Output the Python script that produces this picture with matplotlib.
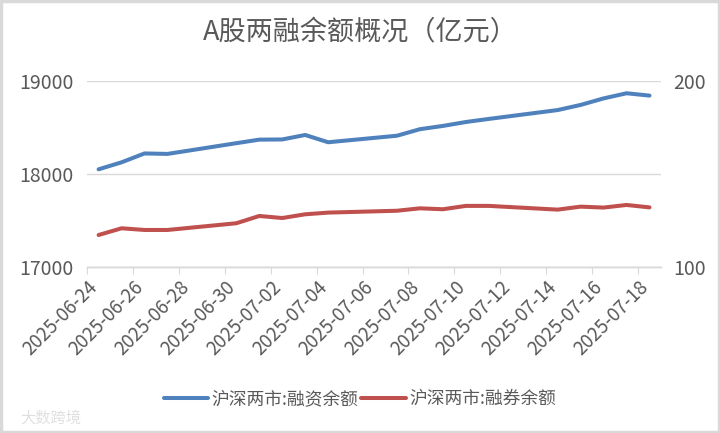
import matplotlib
matplotlib.use("Agg")
from matplotlib import pyplot as plt
import matplotlib.dates as mdates
from matplotlib.patches import Rectangle
import pandas as pd

plt.rcParams["font.family"] = ["Noto Sans CJK SC", "DejaVu Sans"]

dates = [
    "2025-06-24", "2025-06-25", "2025-06-26", "2025-06-27", "2025-06-30",
    "2025-07-01", "2025-07-02", "2025-07-03", "2025-07-04", "2025-07-07",
    "2025-07-08", "2025-07-09", "2025-07-10", "2025-07-11", "2025-07-14",
    "2025-07-15", "2025-07-16", "2025-07-17", "2025-07-18",
]
financing = [
    18050, 18125, 18220, 18215, 18330, 18368, 18370, 18418, 18340, 18410,
    18480, 18515, 18557, 18590, 18685, 18740, 18810, 18865, 18840,
]
securities = [
    117.3, 120.9, 120.0, 120.0, 123.6, 127.5, 126.4, 128.4, 129.3, 130.3,
    131.6, 131.1, 132.9, 132.9, 130.9, 132.5, 132.0, 133.4, 132.1,
]
labels = ["沪深两市:融资余额", "沪深两市:融券余额"]
title = "A股两融余额概况（亿元）"

text_color = "#595959"
grid_color = "#D9D9D9"
blue = "#4F81BD"
red = "#C0504D"

# Excel date axis: points sit in the middle of each day
x = pd.to_datetime(dates) + pd.Timedelta(hours=12)

fig = plt.figure(figsize=(7.2, 4.33), dpi=100)
ax = fig.add_axes([0.121, 0.3827, 0.797, 0.431])
ax2 = ax.twinx()

l1, = ax.plot(x, financing, color=blue, linewidth=2.9, solid_capstyle="round")
l2, = ax2.plot(x, securities, color=red, linewidth=2.9, solid_capstyle="round")

ax.set_xlim(pd.Timestamp("2025-06-24"), pd.Timestamp("2025-07-19"))
ax.set_ylim(17000, 19000)
ax.set_yticks([17000, 18000, 19000])
ax2.set_ylim(100, 200)
ax2.set_yticks([100, 200])

ax.set_xticks(pd.date_range("2025-06-24", "2025-07-18", freq="2D"))
ax.xaxis.set_major_formatter(mdates.DateFormatter("%Y-%m-%d"))

ax.grid(axis="y", color=grid_color, linewidth=1)
ax.set_axisbelow(True)

for a in (ax, ax2):
    for s in ("top", "left", "right"):
        a.spines[s].set_visible(False)
    a.spines["bottom"].set_color(grid_color)
    a.spines["bottom"].set_linewidth(1)

ax.tick_params(axis="y", length=0, pad=10, labelsize=14, labelcolor=text_color)
ax2.tick_params(axis="y", length=0, pad=9, labelsize=14, labelcolor=text_color)
ax.tick_params(axis="x", length=5, color=grid_color, direction="out",
               labelsize=13.5, labelcolor=text_color, pad=2)
for lbl in ax.get_xticklabels():
    lbl.set_rotation(45)
    lbl.set_ha("right")
    lbl.set_va("top")
    lbl.set_rotation_mode("anchor")

fig.text(0.5, 0.924, title, ha="center", va="center", fontsize=19.5, color=text_color)

leg = fig.legend([l1, l2], labels, loc="center", ncol=2, frameon=False,
                 fontsize=12.8, labelcolor=text_color,
                 handlelength=2.5, handletextpad=0.2, columnspacing=0.15)
leg.set_bbox_to_anchor((0.5, 0.079), transform=fig.transFigure)

fig.text(0.028, 0.035, "大数跨境", fontsize=11, color="#E0E0E0", ha="left", va="center")

fig.patches.append(Rectangle((0.001, 0.002), 0.997, 0.995, transform=fig.transFigure,
                             fill=False, edgecolor=grid_color, linewidth=2.5))

fig.savefig("out.png", dpi=100)
